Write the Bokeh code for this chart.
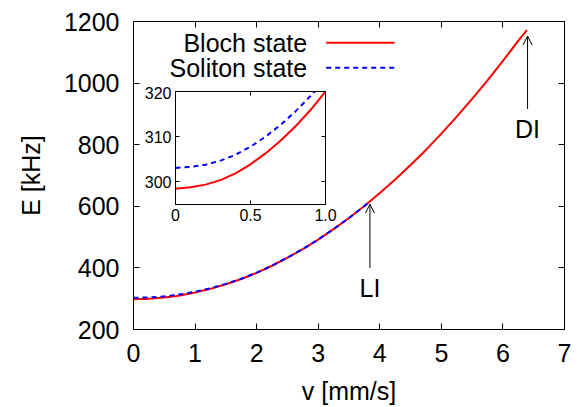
from bokeh.plotting import figure
from bokeh.models import Range1d, LinearAxis, FixedTicker, Label, Arrow, OpenHead
from bokeh.layouts import column
from bokeh.embed import file_html
from bokeh.resources import INLINE

# ---- data ----
v_bloch = [0, 0.1, 0.2, 0.3, 0.4, 0.5, 0.6, 0.7, 0.8, 0.9, 1.0, 1.25, 1.5, 1.75, 2.0,
           2.25, 2.5, 2.75, 3.0, 3.25, 3.5, 3.75, 4.0, 4.25, 4.5, 4.75, 5.0, 5.25,
           5.5, 5.75, 6.0, 6.25, 6.39]
E_bloch = [298.5, 298.8, 299.4, 300.4, 301.9, 303.9, 306.3, 309.1, 312.3, 315.9, 320.0,
           332, 347, 364, 384, 407, 433, 461, 492, 526, 562, 601, 643, 687, 734, 783,
           836, 891, 949, 1009, 1072, 1138, 1172]
v_sol = [0, 0.1, 0.2, 0.3, 0.4, 0.5, 0.6, 0.7, 0.8, 0.9, 1.0, 1.25, 1.5, 1.75, 2.0,
         2.25, 2.5, 2.75, 3.0, 3.25, 3.5, 3.75, 3.84]
E_sol = [303.1, 303.3, 303.8, 304.7, 306.0, 307.8, 310.0, 312.6, 315.6, 319.0, 322.6,
         334.0, 348.2, 364.9, 384.6, 407.4, 433.3, 461.2, 492.1, 526.1, 562.0, 601.0, 615.3]

x_ticks = [0, 1, 2, 3, 4, 5, 6, 7]
y_ticks = [200, 400, 600, 800, 1000, 1200]
inset_x_ticks = [0, 0.5, 1.0]
inset_x_labels = {0: "0", 0.5: "0.5", 1: "1.0"}
inset_y_ticks = [300, 310, 320]

series_names = ["Bloch state", "Soliton state"]
annot_names = ["LI", "DI"]

FONT = "Liberation Sans"
RED = "#ff0000"
BLUE = "#0000ff"


def style_axis(ax, ticks, fsize, tlen, standoff, labels=True):
    ax.ticker = FixedTicker(ticks=ticks)
    ax.major_tick_in = tlen
    ax.major_tick_out = 0
    ax.minor_tick_line_color = None
    ax.major_tick_line_color = "black"
    ax.major_tick_line_width = 1
    ax.axis_line_color = "black"
    ax.axis_line_width = 1
    ax.major_label_text_font = FONT
    if labels:
        ax.major_label_text_color = "black"
        ax.major_label_text_font_size = fsize
        ax.major_label_standoff = standoff
    else:
        ax.major_label_text_color = None
        ax.major_label_text_alpha = 0
        ax.major_label_text_font_size = "1px"
        ax.major_label_standoff = 0


# ---- main figure ----
p = figure(width=579, height=414, output_backend="svg", toolbar_location=None,
           x_range=Range1d(0, 7), y_range=Range1d(200, 1200),
           min_border_left=133, min_border_right=15, min_border_top=21,
           min_border_bottom=85, frame_align=False)
p.xgrid.visible = False
p.ygrid.visible = False
p.outline_line_color = "black"
p.outline_line_width = 1
p.background_fill_color = "white"
p.border_fill_color = "white"

p.line(v_bloch, E_bloch, line_color=RED, line_width=2)
p.line(v_sol, E_sol, line_color=BLUE, line_width=2, line_dash="5 4")

style_axis(p.xaxis[0], x_ticks, "25px", 6, 14)
style_axis(p.yaxis[0], y_ticks, "25px", 6, 14)
p.xaxis[0].axis_label = "v [mm/s]"
p.yaxis[0].axis_label = "E [kHz]"
for ax in (p.xaxis[0], p.yaxis[0]):
    ax.axis_label_text_font = FONT
    ax.axis_label_text_font_size = "25px"
    ax.axis_label_text_font_style = "normal"
    ax.axis_label_text_color = "black"
p.xaxis[0].axis_label_standoff = 12
p.yaxis[0].axis_label_standoff = 16

top_ax = LinearAxis()
style_axis(top_ax, x_ticks, "25px", 6, 0, labels=False)
p.add_layout(top_ax, "above")
right_ax = LinearAxis()
style_axis(right_ax, y_ticks, "25px", 6, 0, labels=False)
p.add_layout(right_ax, "right")

# legend (gnuplot style: text, then line sample)
leg_rows = [(series_names[0], 1131, RED, None), (series_names[1], 1050, BLUE, "5 4")]
for name, yy, col, dash in leg_rows:
    p.add_layout(Label(x=2.82, y=yy, text=name, text_align="right", text_baseline="middle",
                       text_font=FONT, text_font_size="25px", text_color="black"))
    kw = dict(x0=[3.13], y0=[yy], x1=[4.24], y1=[yy], line_color=col, line_width=2)
    if dash:
        kw["line_dash"] = dash
    p.segment(**kw)

# annotations
for name, vx, y_from, y_to, y_txt in [(annot_names[0], 3.84, 400, 607, 336),
                                      (annot_names[1], 6.40, 916, 1153, 851)]:
    p.add_layout(Arrow(end=OpenHead(size=9, line_width=1, line_color="black"),
                       x_start=vx, y_start=y_from, x_end=vx, y_end=y_to,
                       line_color="black", line_width=1))
    p.add_layout(Label(x=vx, y=y_txt, text=name, text_align="center", text_baseline="middle",
                       text_font=FONT, text_font_size="25px", text_color="black"))

# ---- inset ----
q = figure(width=210, height=143, output_backend="svg", toolbar_location=None,
           x_range=Range1d(0, 1), y_range=Range1d(295, 320),
           min_border_left=45, min_border_right=15, min_border_top=5, min_border_bottom=25,
           margin=(-328, 0, 0, 130), frame_align=False)
q.xgrid.visible = False
q.ygrid.visible = False
q.outline_line_color = "black"
q.background_fill_color = "white"
q.border_fill_alpha = 0
q.line(v_bloch, E_bloch, line_color=RED, line_width=2)
q.line(v_sol, E_sol, line_color=BLUE, line_width=2, line_dash="5 4")
style_axis(q.xaxis[0], inset_x_ticks, "16px", 4, 4)
style_axis(q.yaxis[0], inset_y_ticks, "16px", 4, 4)
q.xaxis[0].major_label_overrides = inset_x_labels
qt = LinearAxis()
style_axis(qt, inset_x_ticks, "16px", 4, 0, labels=False)
q.add_layout(qt, "above")
qr = LinearAxis()
style_axis(qr, inset_y_ticks, "16px", 4, 0, labels=False)
q.add_layout(qr, "right")

layout = column(p, q, spacing=0)
html = file_html(layout, INLINE)
html = html.replace("<head>", "<head><style>html,body{margin:0;overflow:hidden;}</style>", 1)
open("out.html", "w").write(html)
